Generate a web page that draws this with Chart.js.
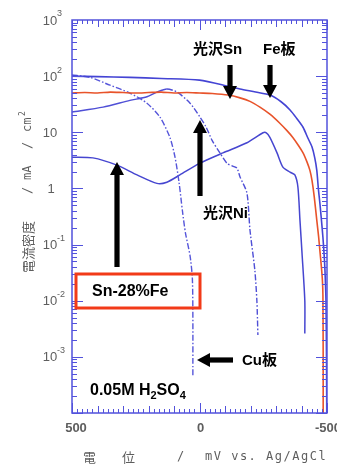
<!DOCTYPE html>
<html>
<head>
<meta charset="utf-8">
<script src="https://cdn.jsdelivr.net/npm/chart.js@4.4.1/dist/chart.umd.min.js"></script>
<style>
  html, body { margin: 0; padding: 0; background: #fff; }
  #wrap { width: 337px; height: 467px; }
</style>
</head>
<body>
<div id="wrap"><canvas id="polChart" width="337" height="467"></canvas></div>
<script>
// potential (mV vs Ag/AgCl) and current density (mA/cm2)
const feE = [500, 400, 273, 150, 0, -119, -159, -220, -276, -320, -355, -380, -406, -425, -441, -452, -460, -466, -472, -478, -484, -489, -492, -496, -498, -499];
const feI = [100, 98, 95, 91, 85, 65, 59, 52, 46, 35, 25, 18, 12.3, 7.9, 5.5, 3.5, 2.1, 1.0, 0.55, 0.28, 0.135, 0.063, 0.035, 0.01, 0.001, 0.0001];

const snE = [500, 450, 400, 350, 300, 250, 200, 150, 100, 50, 0, -50, -112, -159, -198, -237, -276, -315, -343, -366, -386, -406, -421, -433, -441, -450, -460, -467, -472, -478, -482, -484, -485, -485];
const snI = [50, 51, 50, 52, 51, 50, 51, 52, 50, 51, 50, 49, 46, 41, 35.5, 28, 21, 14.5, 10.7, 8.1, 6.0, 4.3, 3.0, 2.1, 1.4, 0.71, 0.27, 0.14, 0.079, 0.04, 0.023, 0.0126, 0.001, 0.0001];

const cuE = [500, 429, 351, 273, 206, 155, 116, 96, 80, 67, 55, 37, 28, 26, 26];
const cuI = [105, 95, 69, 50, 33, 18.6, 8.1, 3.6, 1.26, 0.4, 0.16, 0.063, 0.025, 0.005, 0.00047];

const niE = [500, 378, 273, 206, 167, 128, 88, 37, -2, -25, -50, -80, -108, -130, -147, -159, -186, -198, -217, -225, -229];
const niI = [23, 28, 37, 43, 52, 59, 52, 33, 18.6, 12.6, 7.1, 4.3, 2.8, 2.5, 2.3, 1.6, 0.83, 0.18, 0.035, 0.01, 0.00245];

const snfeE = [500, 418, 324, 245, 167, 128, 77, 0, -92, -186, -249, -262, -276, -304, -327, -355, -374, -386, -394, -402, -413, -413];
const snfeI = [3.6, 3.5, 2.6, 1.74, 1.23, 1.29, 1.74, 2.8, 4.3, 6.5, 9.8, 9.8, 8.1, 4.3, 2.4, 1.95, 1.74, 1.05, 0.27, 0.071, 0.01, 0.0026];

// tick labels
const xTickValues = [500, 0, -500];
const xTickLabels = ['500', '0', '-500'];
const yTickValues = [1000, 100, 10, 1, 0.1, 0.01, 0.001];
const yTickLabels = [['10', '3'], ['10', '2'], ['10', ''], ['1', ''], ['10', '-1'], ['10', '-2'], ['10', '-3']];

const pts = (xs, ys) => xs.map((x, i) => ({ x: x, y: ys[i] }));

const AXIS = '#5252dc';
const GREY = '#5e5e5e';
const BOLD = 'bold 15px "Liberation Sans", "Noto Sans CJK JP", sans-serif';

function arrow(ctx, x1, y1, x2, y2) {
  // tip at (x2, y2)
  const ang = Math.atan2(y2 - y1, x2 - x1);
  const len = Math.hypot(x2 - x1, y2 - y1);
  ctx.save();
  ctx.translate(x2, y2);
  ctx.rotate(ang);
  ctx.fillStyle = '#000';
  ctx.fillRect(-len, -2.6, len - 10, 5.2);
  ctx.beginPath();
  ctx.moveTo(0, 0);
  ctx.lineTo(-13, -7);
  ctx.lineTo(-13, 7);
  ctx.closePath();
  ctx.fill();
  ctx.restore();
}

const frame = {
  id: 'frame',
  beforeDraw(chart) {
    const c = chart.ctx;
    c.save();
    c.fillStyle = '#fff';
    c.fillRect(0, 0, chart.width, chart.height);
    c.restore();
  },
  afterDatasetsDraw(chart) {
    const c = chart.ctx;
    const a = chart.chartArea;
    const xs = chart.scales.x, ys = chart.scales.y;
    c.save();

    // box + inward ticks
    c.strokeStyle = AXIS;
    c.lineWidth = 1.5;
    c.strokeRect(a.left, a.top, a.right - a.left, a.bottom - a.top);
    c.lineWidth = 1;
    c.beginPath();
    for (let d = -4; d <= 2; d++) {
      for (let m = 1; m <= 9; m++) {
        const v = m * Math.pow(10, d);
        const y = Math.round(ys.getPixelForValue(v)) + 0.5;
        const len = m === 1 ? 11 : 5;
        c.moveTo(a.left, y); c.lineTo(a.left + len, y);
        c.moveTo(a.right, y); c.lineTo(a.right - len, y);
      }
    }
    for (let v = -500; v <= 500; v += 20) {
      const x = Math.round(xs.getPixelForValue(v)) + 0.5;
      const len = v % 500 === 0 ? 10 : (v % 100 === 0 ? 7 : 4);
      c.moveTo(x, a.top); c.lineTo(x, a.top + len);
      c.moveTo(x, a.bottom); c.lineTo(x, a.bottom - len);
    }
    c.stroke();

    // y tick labels
    c.fillStyle = GREY;
    c.textBaseline = 'middle';
    yTickValues.forEach((v, i) => {
      const y = ys.getPixelForValue(v);
      const [base, exp] = yTickLabels[i];
      c.font = '13px "Liberation Sans", sans-serif';
      c.textAlign = 'center';
      const cx = base === '1' ? 51 : 50;
      c.fillText(base, cx, y + 1);
      if (exp) {
        c.font = '9px "Liberation Sans", sans-serif';
        c.textAlign = 'left';
        c.fillText(exp, cx + c.measureText('').width + 7, y - 6);
      }
    });

    // x tick labels
    c.font = 'bold 13px "Liberation Sans", sans-serif';
    c.textAlign = 'center';
    xTickValues.forEach((v, i) => {
      c.fillText(xTickLabels[i], xs.getPixelForValue(v) + (v === 500 ? 4 : 1), 428);
    });

    // x title
    c.font = '13px "Noto Sans CJK JP", sans-serif';
    c.textAlign = 'left';
    c.fillText('電', 83, 457);
    c.fillText('位', 122, 457);
    c.font = '12px "DejaVu Sans Mono", monospace';
    c.fillText('/', 177, 457);
    c.letterSpacing = '1.5px';
    c.fillText('mV vs. Ag/AgCl', 205, 457);
    c.letterSpacing = '0px';

    // y title (rotated)
    c.save();
    c.translate(28, 273);
    c.rotate(-Math.PI / 2);
    c.font = '13px "Noto Sans CJK JP", sans-serif';
    c.textAlign = 'left';
    c.fillText('電流密度', 0, 0);
    c.font = '12px "DejaVu Sans Mono", monospace';
    c.fillText('/', 79, 0);
    c.fillText('mA', 93, 0);
    c.fillText('/', 124, 0);
    c.fillText('cm', 141, 0);
    c.font = '8px "DejaVu Sans Mono", monospace';
    c.fillText('2', 157, -5);
    c.restore();

    // annotations
    c.fillStyle = '#000';
    c.font = BOLD;
    c.textAlign = 'left';
    c.fillText('光沢Sn', 193, 50);
    c.fillText('Fe板', 263, 50);
    c.fillText('光沢Ni', 203, 214);
    c.fillText('Cu板', 242, 361);
    arrow(c, 230, 65, 230, 99);
    arrow(c, 270, 65, 270, 98);
    arrow(c, 200, 196, 200, 120);
    arrow(c, 117, 267, 117, 162);
    arrow(c, 233, 360, 197, 360);

    // red box
    c.strokeStyle = '#f23a18';
    c.lineWidth = 3;
    c.strokeRect(76, 274, 124, 34);
    c.font = 'bold 16px "Liberation Sans", sans-serif';
    c.fillText('Sn-28%Fe', 92, 292);

    // electrolyte
    c.font = 'bold 16px "Liberation Sans", sans-serif';
    let x = 90;
    const parts = [['0.05M H', 0], ['2', 1], ['SO', 0], ['4', 1]];
    parts.forEach(([t, sub]) => {
      c.font = sub ? 'bold 11px "Liberation Sans", sans-serif' : 'bold 16px "Liberation Sans", sans-serif';
      c.fillText(t, x, sub ? 396 : 391);
      x += c.measureText(t).width;
    });

    c.restore();
  }
};

const dashDot = [6, 2, 1.5, 2];

new Chart(document.getElementById('polChart'), {
  type: 'scatter',
  data: {
    datasets: [
      { label: 'Fe板', data: pts(feE, feI), borderColor: '#4444d4', borderWidth: 1.6 },
      { label: '光沢Sn', data: pts(snE, snI), borderColor: '#e8532a', borderWidth: 1.6 },
      { label: 'Cu板', data: pts(cuE, cuI), borderColor: '#5656da', borderWidth: 1.4, borderDash: dashDot },
      { label: '光沢Ni', data: pts(niE, niI), borderColor: '#4f4fd6', borderWidth: 1.4,
        segment: { borderDash: ctx => ctx.p0.parsed.x <= 128 ? dashDot : undefined } },
      { label: 'Sn-28%Fe', data: pts(snfeE, snfeI), borderColor: '#4646d0', borderWidth: 1.5 }
    ]
  },
  options: {
    responsive: false,
    animation: false,
    events: [],
    showLine: true,
    elements: { point: { radius: 0 }, line: { tension: 0.25 } },
    layout: { padding: { left: 72, right: 10, top: 20, bottom: 54 } },
    plugins: { legend: { display: false }, tooltip: { enabled: false } },
    scales: {
      x: { type: 'linear', reverse: true, min: -500, max: 500, display: false },
      y: { type: 'logarithmic', min: 0.0001, max: 1000, display: false }
    }
  },
  plugins: [frame]
});
</script>
</body>
</html>
